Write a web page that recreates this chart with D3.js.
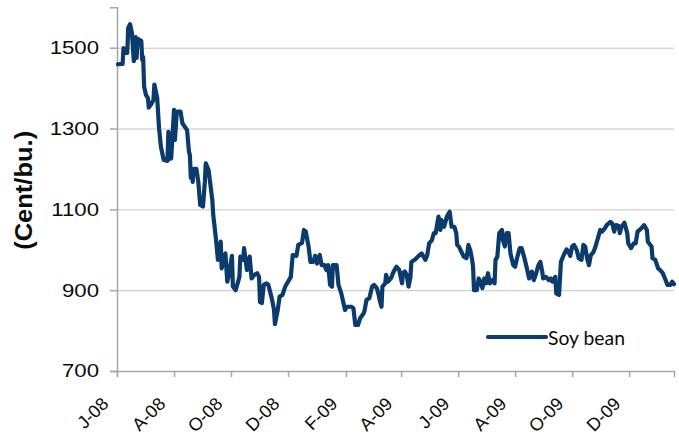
<!DOCTYPE html>
<html>
<head>
<meta charset="utf-8">
<script src="https://cdn.jsdelivr.net/npm/d3@7"></script>
<style>
  html, body { margin: 0; padding: 0; background: #ffffff; }
  svg { display: block; }
</style>
</head>
<body>
<svg id="chart" width="679" height="436"></svg>
<script>
// ---- data (days since 1 Jun 2008, price in cents per bushel) ----
const startDate = new Date(2008, 5, 1);
const endDay = 596;
const soybean = [[1,1459],[6,1460],[7,1499],[9,1487],[11,1487],[12,1549],[14,1558],[16,1536],[18,1467],[20,1526],[21,1475],[22,1522],[26,1517],[27,1470],[28,1477],[29,1404],[31,1383],[33,1376],[34,1352],[37,1362],[39,1371],[40,1409],[43,1376],[45,1301],[47,1255],[50,1222],[54,1220],[55,1292],[56,1225],[58,1226],[61,1346],[62,1272],[64,1342],[68,1342],[70,1313],[75,1296],[77,1243],[78,1234],[79,1178],[80,1200],[81,1168],[82,1200],[85,1200],[87,1168],[89,1111],[92,1107],[94,1168],[95,1214],[98,1197],[102,1123],[103,1086],[106,1024],[108,975],[111,1020],[112,954],[116,991],[118,921],[120,942],[123,985],[124,909],[127,900],[131,933],[132,983],[135,975],[136,1004],[139,950],[142,983],[144,929],[147,938],[150,942],[152,933],[153,871],[155,868],[157,913],[160,917],[162,913],[166,876],[168,851],[169,816],[172,851],[174,884],[177,888],[180,909],[183,921],[186,933],[188,987],[192,985],[194,1012],[198,1017],[200,1049],[202,1045],[205,1008],[207,970],[210,970],[212,985],[214,966],[217,987],[219,962],[222,962],[224,950],[226,962],[228,913],[230,909],[231,962],[235,962],[237,913],[240,892],[244,851],[246,859],[251,859],[253,855],[255,814],[258,814],[260,830],[264,843],[265,851],[267,876],[270,880],[273,909],[275,913],[278,905],[280,888],[281,876],[283,859],[284,909],[287,917],[288,938],[290,921],[293,929],[296,946],[299,958],[302,950],[305,917],[306,942],[308,946],[310,938],[312,909],[314,933],[315,970],[319,976],[322,983],[326,991],[330,975],[332,987],[334,1016],[337,1024],[339,1041],[341,1041],[344,1082],[346,1049],[347,1074],[350,1057],[353,1082],[356,1094],[358,1057],[361,1057],[363,1041],[364,1012],[366,1007],[371,983],[374,979],[376,1012],[378,999],[380,975],[381,958],[382,900],[385,900],[387,929],[389,921],[391,905],[393,929],[395,917],[397,942],[399,917],[402,925],[404,917],[405,975],[407,983],[409,1041],[412,1049],[413,1024],[415,1008],[417,1041],[419,1041],[421,991],[424,962],[426,958],[428,979],[431,1004],[433,1004],[436,979],[439,950],[441,929],[444,946],[446,925],[448,938],[451,962],[453,970],[455,946],[456,929],[459,933],[462,925],[464,929],[466,921],[469,933],[470,892],[473,888],[475,970],[478,987],[481,1001],[483,995],[485,985],[487,1008],[489,1012],[492,999],[494,979],[497,975],[499,1012],[501,1008],[503,979],[505,962],[507,987],[510,995],[512,1008],[515,1032],[517,1049],[519,1045],[522,1053],[524,1061],[528,1069],[530,1065],[532,1045],[534,1061],[537,1059],[538,1041],[540,1057],[543,1067],[546,1041],[547,1016],[550,1004],[553,1016],[555,1016],[557,1045],[561,1053],[564,1061],[567,1049],[568,1020],[572,1008],[573,979],[576,975],[579,954],[581,950],[584,942],[587,925],[589,913],[592,913],[594,921],[596,915]];

const seriesName = "Soy bean";
const yTitle = "(Cent/bu.)";
const yTicks = [700, 900, 1100, 1300, 1500];
const yDomain = [700, 1600];
const xTickDates = [[2008,5,1],[2008,7,1],[2008,9,1],[2008,11,1],[2009,1,1],[2009,3,1],[2009,5,1],[2009,7,1],[2009,9,1],[2009,11,1]];
const xTickLabels = ["J-08","A-08","O-08","D-08","F-09","A-09","J-09","A-09","O-09","D-09"];

// ---- layout ----
const plotLeft = 117, plotRight = 674, plotTop = 7.3, plotBottom = 371;
const lineColor = "#0b3a6c";

const svg = d3.select("#chart");

const x = d3.scaleTime()
  .domain([startDate, d3.timeDay.offset(startDate, endDay)])
  .range([plotLeft, plotRight]);
const y = d3.scaleLinear().domain(yDomain).range([plotBottom, plotTop]);

// gridlines
const gridG = svg.append("g").attr("transform", `translate(${plotLeft},0)`)
  .call(d3.axisLeft(y).tickValues(yTicks.filter(v => v !== yDomain[0]))
    .tickSize(-(plotRight - plotLeft)).tickFormat(""));
gridG.select(".domain").remove();
gridG.selectAll("line").attr("stroke", "#c6c6c6").attr("stroke-width", 1);

// y axis
const yAxisG = svg.append("g").attr("transform", `translate(${plotLeft},0)`)
  .call(d3.axisLeft(y).tickValues(yTicks).tickSize(7).tickPadding(11).tickFormat(d3.format("d")));
yAxisG.select(".domain").attr("stroke", "#a6a6a6").attr("stroke-width", 1.5);
yAxisG.selectAll(".tick line").attr("stroke", "#a6a6a6").attr("stroke-width", 1.5);
yAxisG.selectAll("text")
  .attr("fill", "#0a0a0a")
  .style("font-family", "'Liberation Sans', Arial, sans-serif")
  .style("font-size", "18.5px")
  .each(function() {
    const len = this.getComputedTextLength();
    d3.select(this).attr("textLength", len * 1.2).attr("lengthAdjust", "spacingAndGlyphs");
  });

// x axis
const xAxisG = svg.append("g").attr("transform", `translate(0,${plotBottom})`)
  .call(d3.axisBottom(x)
    .tickValues(xTickDates.map(d => new Date(d[0], d[1], d[2])))
    .tickSize(6)
    .tickFormat((d, i) => xTickLabels[i]));
xAxisG.select(".domain").attr("stroke", "#a6a6a6").attr("stroke-width", 1.5);
xAxisG.selectAll(".tick line").attr("stroke", "#a6a6a6").attr("stroke-width", 1.5);
xAxisG.selectAll("text")
  .attr("fill", "#0a0a0a")
  .style("font-family", "'Liberation Sans', Arial, sans-serif")
  .style("font-size", "18px")
  .attr("text-anchor", "end")
  .attr("y", 0).attr("dy", 0)
  .attr("transform", "translate(-8,34) rotate(-45)");

// y title
svg.append("text")
  .attr("transform", `translate(32,${(130.7 + 250) / 2}) rotate(-90)`)
  .attr("text-anchor", "middle")
  .attr("fill", "#0a0a0a")
  .style("font-family", "'Liberation Sans', Arial, sans-serif")
  .style("font-weight", "bold")
  .style("font-size", "24.5px")
  .attr("textLength", 119)
  .attr("lengthAdjust", "spacingAndGlyphs")
  .text(yTitle);

// line
const line = d3.line()
  .x(d => x(d3.timeDay.offset(startDate, d[0])))
  .y(d => y(d[1]));

svg.append("path")
  .datum(soybean)
  .attr("fill", "none")
  .attr("stroke", lineColor)
  .attr("stroke-width", 4.2)
  .attr("stroke-linejoin", "round")
  .attr("stroke-linecap", "round")
  .attr("d", line);

// legend
const legend = svg.append("g").attr("transform", "translate(488,337)");
legend.append("line")
  .attr("x1", 0).attr("x2", 58).attr("y1", 0).attr("y2", 0)
  .attr("stroke", lineColor).attr("stroke-width", 4.2).attr("stroke-linecap", "round");
legend.append("text")
  .attr("x", 60).attr("y", 7.5)
  .attr("fill", "#0a0a0a")
  .style("font-family", "Lato, 'Open Sans', sans-serif")
  .style("font-size", "20px")
  .attr("textLength", 77)
  .attr("lengthAdjust", "spacingAndGlyphs")
  .text(seriesName);
</script>
</body>
</html>
